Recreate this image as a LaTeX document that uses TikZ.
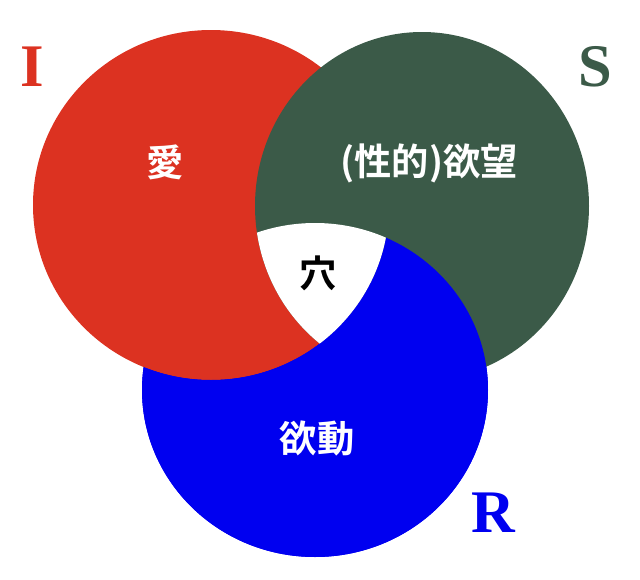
\documentclass[tikz,border=0pt]{standalone}
\usepackage{fontspec}
\setmainfont{Liberation Serif}
\newfontfamily\jp{Noto Sans CJK JP}[BoldFont={Noto Sans CJK JP Bold}]
\usepackage{xcolor}
\usepackage{tikz}
\definecolor{clrI}{HTML}{DC3221}
\definecolor{clrS}{HTML}{3B5A48}
\definecolor{clrR}{HTML}{0000F0}
\newcommand\ringI{(211,205) ellipse [x radius=178, y radius=175]}
\newcommand\ringS{(422,206) ellipse [x radius=167, y radius=174]}
\newcommand\ringR{(315,390) ellipse [x radius=173, y radius=167]}

\begin{document}
\begin{tikzpicture}[
    x=0.025cm, y=-0.025cm,
    word/.style={font=\jp\bfseries\fontsize{26.5}{26.5}\selectfont, text=white, inner sep=0pt},
    letter/.style={font=\bfseries\fontsize{43}{43}\selectfont, inner sep=0pt}
]
\useasboundingbox (0,0) rectangle (640,580);
\fill[clrR] \ringR;
\fill[clrI] \ringI;
\fill[clrS] \ringS;
\begin{scope}
  \clip \ringR;
  \fill[clrR, even odd rule] (0,0) rectangle (640,580) \ringI;
\end{scope}
\begin{scope}
  \clip \ringI;
  \clip \ringS;
  \fill[white] \ringR;
\end{scope}
\node[word] (ai) at (165,162) {愛};
\node[word] (yokubo) at (429,163) {(性的)欲望};
\node[word] (yokudo) at (317,438) {欲動};
\node[word, text=black] (ana) at (318,273) {穴};
\node[letter, text=clrI] (I) at (32,67) {I};
\node[letter, text=clrS] (S) at (595,67) {S};
\node[letter, text=clrR] (R) at (493,513) {R};
\end{tikzpicture}
\end{document}
